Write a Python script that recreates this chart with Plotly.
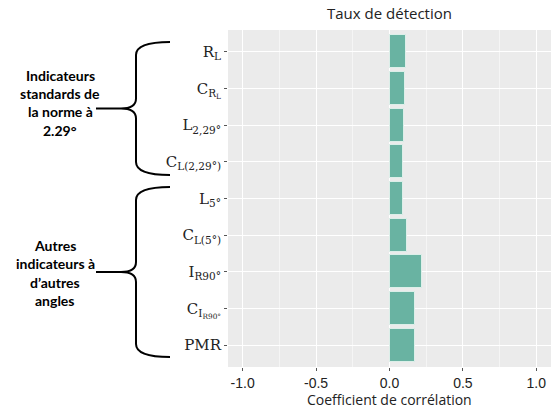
import plotly.graph_objects as go

categories = ["R<sub>L</sub>", "C<sub>R<sub>L</sub></sub>", "L<sub>2,29°</sub>", "C<sub>L(2,29°)</sub>",
              "L<sub>5°</sub>", "C<sub>L(5°)</sub>", "I<sub>R90°</sub>", "C<sub>I<sub>R90°</sub></sub>", "PMR"]
values = [0.11, 0.107, 0.10, 0.093, 0.093, 0.116, 0.222, 0.175, 0.175]
xticks = [-1.0, -0.5, 0.0, 0.5, 1.0]
xticklabels = ["-1.0", "-0.5", "0.0", "0.5", "1.0"]
group1_lines = ["Indicateurs", "standards de", "la norme à", "2.29°"]
group2_lines = ["Autres", "indicateurs à", "d’autres", "angles"]

W, H = 556, 408
L, R, T, B = 228, 5, 30, 41
pw, ph = W - L - R, H - T - B

def px(x):
    return (x - L) / pw

def py(y):
    return 1 - (y - T) / ph

idx = list(range(len(categories)))

fig = go.Figure()
fig.add_trace(go.Bar(
    x=values, y=idx, orientation="h", width=0.9,
    marker=dict(color="#69b3a2", line=dict(color="#dcefe9", width=1)),
    hoverinfo="x",
))

def brace(top, bot, xr, xm, xtip):
    mid = (top + bot) / 2
    pts = [
        f"M {px(xr)},{py(top)}",
        f"Q {px(xm)},{py(top)} {px(xm)},{py(top+13)}",
        f"L {px(xm)},{py(mid-10)}",
        f"Q {px(xm)},{py(mid)} {px(xm-15)},{py(mid)}",
        f"L {px(xtip)},{py(mid)}",
        f"M {px(xm-15)},{py(mid)}",
        f"Q {px(xm)},{py(mid)} {px(xm)},{py(mid+10)}",
        f"L {px(xm)},{py(bot-13)}",
        f"Q {px(xm)},{py(bot)} {px(xr)},{py(bot)}",
    ]
    return dict(type="path", xref="paper", yref="paper", path=" ".join(pts),
                line=dict(color="black", width=2))

shapes = [brace(42, 175, 170, 136, 96), brace(187, 357, 170, 136, 96)]

annotations = []
for lines, x0, y0, dy in [(group1_lines, 60, 75, 18.5), (group2_lines, 55, 245, 18.5)]:
    for i, t in enumerate(lines):
        annotations.append(dict(
            text=t, x=px(x0), y=py(y0 + i * dy), xref="paper", yref="paper", showarrow=False,
            xanchor="center", yanchor="middle",
            font=dict(family="Lato", size=14, color="black", weight="bold")))
annotations.append(dict(text="Taux de détection", x=0.5, y=py(13), xref="paper", yref="paper", showarrow=False,
                        font=dict(family="Open Sans", size=15, color="#222"), xanchor="center", yanchor="middle"))
annotations.append(dict(text="Coefficient de corrélation", x=0.5, y=py(399), xref="paper", yref="paper",
                        showarrow=False, font=dict(family="Open Sans", size=14, color="#222"),
                        xanchor="center", yanchor="middle"))

fig.update_layout(
    width=W, height=H,
    margin=dict(l=L, r=R, t=T, b=B),
    paper_bgcolor="white", plot_bgcolor="#ebebeb",
    showlegend=False, bargap=0,
    shapes=shapes, annotations=annotations,
    xaxis=dict(range=[-1.1, 1.1], tickvals=xticks, ticktext=xticklabels,
               showgrid=True, gridcolor="white", gridwidth=1.2, zeroline=False,
               ticks="outside", ticklen=3, tickcolor="#555",
               tickfont=dict(family="Liberation Sans", size=14, color="#222"),
               minor=dict(tickvals=[-0.75, -0.25, 0.25, 0.75], showgrid=True, gridcolor="#f5f5f5", gridwidth=0.6)),
    yaxis=dict(range=[8.6, -0.6], tickvals=idx, ticktext=categories,
               showgrid=True, gridcolor="white", gridwidth=1.2, zeroline=False,
               ticks="outside", ticklen=3, tickcolor="#555",
               tickfont=dict(family="DejaVu Serif", size=15, color="#222")),
)

fig.write_html("out.html", config={"displayModeBar": False},
               post_script="document.body.style.margin='0px';")
